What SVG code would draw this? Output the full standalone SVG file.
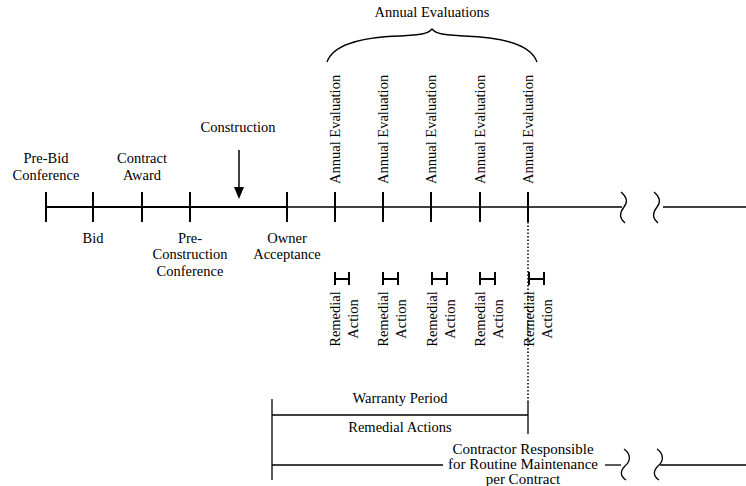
<svg xmlns="http://www.w3.org/2000/svg" width="746" height="486" viewBox="0 0 746 486">
<style>
text{font-family:"Liberation Serif","Times New Roman",serif;font-size:14.5px;fill:#000}
.m{text-anchor:middle}
.b{font-size:15px}
.bold{stroke:#000;stroke-width:2;fill:none}
.thin{stroke:#000;stroke-width:1.3;fill:none}
.dot{stroke:#000;stroke-width:1.5;stroke-dasharray:1.5 2;fill:none}
</style>
<rect width="746" height="486" fill="#fff"/>
<g id="connectors">
<line class="bold" x1="46" y1="207" x2="287" y2="207"/>
<line class="thin" x1="287" y1="207" x2="622" y2="207"/>
<line class="thin" x1="663" y1="207" x2="746" y2="207"/>
<path class="thin" d="M621,192 C627,197 628,202 624,207 C620,212 619,218 625,223"/>
<path class="thin" d="M654,192 C660,197 661,202 657,207 C653,212 652,218 658,223"/>
<line x1="239" y1="150" x2="239" y2="188" stroke="#000" stroke-width="1.5"/>
<path d="M234,187 L244,187 L239,199 Z" fill="#000"/>
<path class="thin" d="M327,62 C334,42 368,37 400,36 C420,35 428,34 432,29 C436,34 444,35 464,36 C496,37 530,42 537,62"/>
<line class="dot" x1="528" y1="222" x2="528" y2="402"/>
<line class="thin" x1="528" y1="402" x2="528" y2="434"/>
<line class="thin" x1="272" y1="399" x2="272" y2="480"/>
<line class="thin" x1="272" y1="415" x2="528" y2="415"/>
<line class="thin" x1="272" y1="465" x2="443" y2="465"/>
<line class="thin" x1="605" y1="465" x2="621" y2="465"/>
<path class="thin" d="M624,449 C631,454 631,461 625,466 C620,471 620,476 626,480"/>
<path class="thin" d="M657,449 C664,454 664,461 658,466 C653,471 653,476 659,480"/>
<line class="thin" x1="660" y1="465" x2="746" y2="465"/>
</g>
<g id="ticks">
<line class="bold" x1="46" y1="192" x2="46" y2="222"/>
<line class="bold" x1="93" y1="192" x2="93" y2="222"/>
<line class="bold" x1="142" y1="192" x2="142" y2="222"/>
<line class="bold" x1="190" y1="192" x2="190" y2="222"/>
<line class="bold" x1="287" y1="192" x2="287" y2="222"/>
<line class="bold" x1="335" y1="192" x2="335" y2="222"/>
<line class="bold" x1="383" y1="192" x2="383" y2="222"/>
<line class="bold" x1="431" y1="192" x2="431" y2="222"/>
<line class="bold" x1="480" y1="192" x2="480" y2="222"/>
<line class="bold" x1="528" y1="192" x2="528" y2="222"/>
</g>
<g id="pre-bid"><text class="m" x="46" y="163">Pre-Bid</text><text class="m" x="46" y="180">Conference</text></g>
<g id="bid"><text class="m" x="93" y="243">Bid</text></g>
<g id="contract-award"><text class="m" x="142" y="163">Contract</text><text class="m" x="142" y="180">Award</text></g>
<g id="pre-construction"><text class="m" x="190" y="243">Pre-</text><text class="m" x="190" y="259">Construction</text><text class="m" x="190" y="276">Conference</text></g>
<g id="construction"><text class="m" x="238" y="132">Construction</text></g>
<g id="owner-acceptance"><text class="m" x="287" y="243">Owner</text><text class="m" x="287" y="259">Acceptance</text></g>
<g id="annual-evaluations"><text class="m" x="432" y="17">Annual Evaluations</text></g>
<g id="annual-evaluation-1"><text transform="translate(340,184) rotate(-90)">Annual Evaluation</text></g>
<g id="annual-evaluation-2"><text transform="translate(388,184) rotate(-90)">Annual Evaluation</text></g>
<g id="annual-evaluation-3"><text transform="translate(436,184) rotate(-90)">Annual Evaluation</text></g>
<g id="annual-evaluation-4"><text transform="translate(485,184) rotate(-90)">Annual Evaluation</text></g>
<g id="annual-evaluation-5"><text transform="translate(533,184) rotate(-90)">Annual Evaluation</text></g>
<g id="remedial-1">
<path class="bold" d="M335,272 V285 M349,272 V285 M335,279 H349"/>
<text class="m" transform="translate(340,319) rotate(-90)">Remedial</text>
<text class="m" transform="translate(358,319) rotate(-90)">Action</text>
</g>
<g id="remedial-2">
<path class="bold" d="M383,272 V285 M398,272 V285 M383,279 H398"/>
<text class="m" transform="translate(388,319) rotate(-90)">Remedial</text>
<text class="m" transform="translate(406,319) rotate(-90)">Action</text>
</g>
<g id="remedial-3">
<path class="bold" d="M432,272 V285 M447,272 V285 M432,279 H447"/>
<text class="m" transform="translate(437,319) rotate(-90)">Remedial</text>
<text class="m" transform="translate(455,319) rotate(-90)">Action</text>
</g>
<g id="remedial-4">
<path class="bold" d="M480,272 V285 M495,272 V285 M480,279 H495"/>
<text class="m" transform="translate(485,319) rotate(-90)">Remedial</text>
<text class="m" transform="translate(503,319) rotate(-90)">Action</text>
</g>
<g id="remedial-5">
<path class="bold" d="M529,272 V285 M544,272 V285 M529,279 H544"/>
<text class="m" transform="translate(534,319) rotate(-90)">Remedial</text>
<text class="m" transform="translate(552,319) rotate(-90)">Action</text>
</g>
<g id="warranty-period"><text class="m" x="400" y="403">Warranty Period</text></g>
<g id="remedial-actions"><text class="m" x="400" y="432">Remedial Actions</text></g>
<g id="contractor-responsible"><text class="m b" x="523" y="454">Contractor Responsible</text><text class="m b" x="523" y="469">for Routine Maintenance</text><text class="m b" x="523" y="484">per Contract</text></g>
</svg>
